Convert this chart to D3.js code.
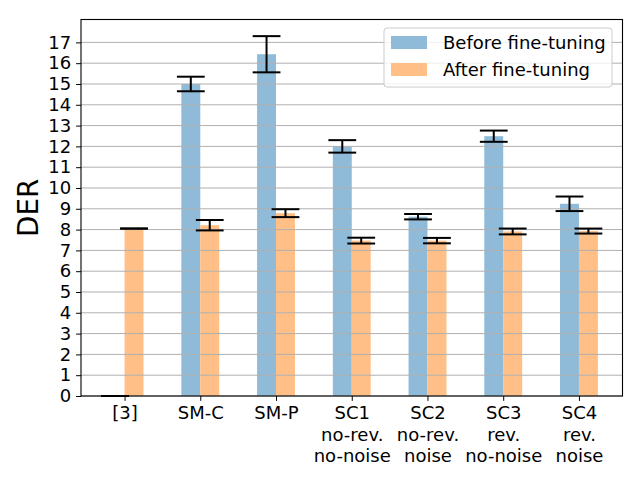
<!DOCTYPE html>
<html><head><meta charset="utf-8">
<script src="https://cdn.jsdelivr.net/npm/d3@7"></script>
<style>body{margin:0;background:#fff}svg{display:block;font-family:"DejaVu Sans",sans-serif}</style>
</head><body><svg id="c" width="640" height="480"></svg>
<script>
const categories = ["[3]", "SM-C", "SM-P", "SC1\nno-rev.\nno-noise", "SC2\nno-rev.\nnoise", "SC3\nrev.\nno-noise", "SC4\nrev.\nnoise"];
const beforeValues = [0, 15.0, 16.43, 12.0, 8.62, 12.49, 9.24];
const beforeErr = [0, 0.35, 0.87, 0.3, 0.13, 0.27, 0.35];
const afterValues = [8.05, 8.21, 8.79, 7.47, 7.47, 7.91, 7.93];
const afterErr = [0, 0.25, 0.19, 0.14, 0.13, 0.14, 0.12];
const yTicks = d3.range(0, 18);
const seriesNames = ["Before fine-tuning", "After fine-tuning"];
const colors = ["#8fbbd9", "#ffbf86"];

const svg = d3.select("#c");
const L = 81, R = 622.5, T = 19.5, B = 396;
const FS = 18;
const x = d3.scaleLinear().domain([-0.575, 6.575]).range([L, R]);
const y = d3.scaleLinear().domain([0, 18.1]).range([B, T]);
const bw = 0.25;

// bars
const series = [
  {vals: beforeValues, errs: beforeErr, off: -0.125, color: colors[0]},
  {vals: afterValues, errs: afterErr, off: 0.125, color: colors[1]}
];
series.forEach(s => {
  svg.append("g").selectAll("rect").data(s.vals).join("rect")
    .attr("x", (d, i) => x(i + s.off - bw / 2))
    .attr("width", (d, i) => x(i + s.off + bw / 2) - x(i + s.off - bw / 2))
    .attr("y", d => y(d))
    .attr("height", d => y(0) - y(d))
    .attr("fill", s.color);
});

// grid
svg.append("g").selectAll("line").data(yTicks).join("line")
  .attr("x1", L).attr("x2", R)
  .attr("y1", d => y(d)).attr("y2", d => y(d))
  .attr("stroke", "#b0b0b0").attr("stroke-width", 1);

// error bars
const capW = 13.9;
series.forEach(s => {
  const g = svg.append("g").attr("stroke", "#000").attr("stroke-width", 2);
  s.vals.forEach((v, i) => {
    const cx = x(i + s.off), e = s.errs[i];
    g.append("line").attr("x1", cx).attr("x2", cx).attr("y1", y(v - e)).attr("y2", y(v + e));
    g.append("line").attr("x1", cx - capW).attr("x2", cx + capW).attr("y1", y(v - e)).attr("y2", y(v - e));
    g.append("line").attr("x1", cx - capW).attr("x2", cx + capW).attr("y1", y(v + e)).attr("y2", y(v + e));
  });
});

// axes
const yAxis = svg.append("g").attr("transform", `translate(${L},0)`)
  .call(d3.axisLeft(y).tickValues(yTicks).tickSize(4.9).tickPadding(5).tickFormat(d3.format("d")));
yAxis.select(".domain").remove();
yAxis.selectAll("text").attr("font-size", FS).attr("font-family", "DejaVu Sans").attr("fill", "#000");
yAxis.selectAll("line").attr("stroke", "#000");

const xAxis = svg.append("g").attr("transform", `translate(0,${B})`)
  .call(d3.axisBottom(x).tickValues(d3.range(categories.length)).tickSize(4.9).tickPadding(5).tickFormat(() => ""));
xAxis.select(".domain").remove();
xAxis.selectAll("line").attr("stroke", "#000");
xAxis.selectAll(".tick").each(function(d) {
  const lines = categories[d].split("\n");
  const t = d3.select(this).append("text").attr("fill", "#000").attr("font-size", FS)
    .attr("font-family", "DejaVu Sans").attr("text-anchor", "middle");
  lines.forEach((ln, k) => t.append("tspan").attr("x", 0).attr("y", 23 + k * 21.6).text(ln));
});

// spines
svg.append("rect").attr("x", L).attr("y", T).attr("width", R - L).attr("height", B - T)
  .attr("fill", "none").attr("stroke", "#000").attr("stroke-width", 1.1);

// y label
svg.append("text").attr("transform", `translate(38,${(T + B) / 2}) rotate(-90)`)
  .attr("text-anchor", "middle").attr("font-size", 27.8).attr("fill", "#000").text("DER");

// legend
const lg = svg.append("g");
lg.append("rect").attr("x", 384).attr("y", 28).attr("width", 228).attr("height", 59).attr("rx", 3)
  .attr("fill", "#fff").attr("fill-opacity", 0.8).attr("stroke", "#cccccc").attr("stroke-width", 1);
seriesNames.forEach((n, i) => {
  lg.append("rect").attr("x", 391).attr("y", 36 + i * 27).attr("width", 36).attr("height", 13).attr("fill", colors[i]);
  lg.append("text").attr("x", 443).attr("y", 49 + i * 27).attr("font-size", FS).attr("fill", "#000").text(n);
});
</script></body></html>
